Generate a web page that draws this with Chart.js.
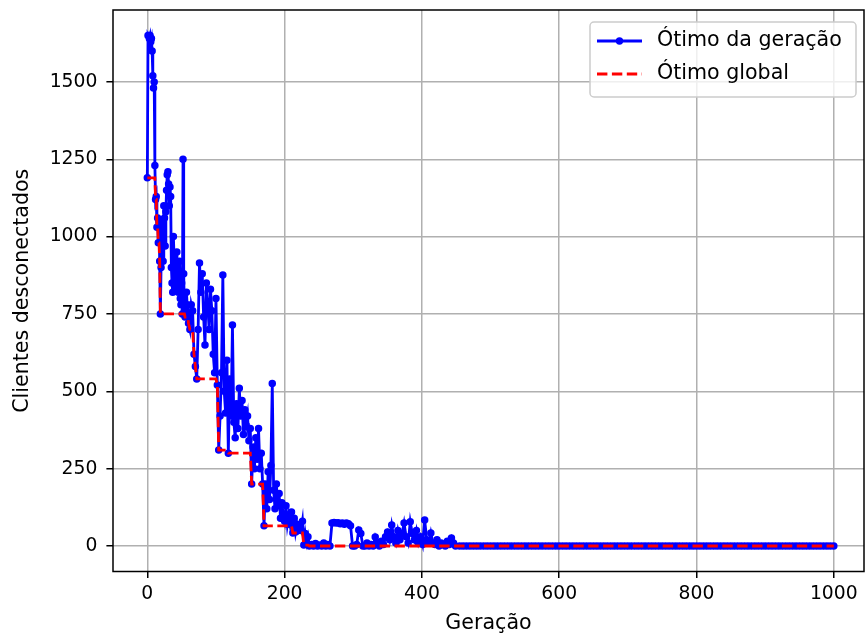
<!DOCTYPE html>
<html>
<head>
<meta charset="utf-8">
<script src="https://cdn.jsdelivr.net/npm/chart.js@4.4.1/dist/chart.umd.min.js"></script>
<style>
  html, body { margin: 0; padding: 0; background: #fff; }
</style>
</head>
<body>
<canvas id="grafico" width="865" height="639"></canvas>
<script>
// geração -> clientes desconectados (melhor indivíduo de cada geração)
const geracoesFase1 = [
  0, 1, 2, 3, 4, 5, 6, 7, 8, 9,
  10, 11, 12, 13, 14, 15, 16, 17, 18, 19,
  20, 21, 22, 23, 24, 25, 26, 27, 28, 29,
  30, 31, 32, 33, 34, 35, 36, 37, 38, 39,
  40, 41, 42, 43, 44, 45, 46, 47, 48, 49,
  50, 51, 52, 53, 54, 55, 56, 57, 58, 59,
  60
];
const valoresFase1 = [
  1190, 1650, 1650, 1640, 1650, 1630, 1640, 1600, 1520, 1480,
  1500, 1230, 1120, 1130, 1030, 1060, 980, 1050, 920, 750,
  900, 1050, 1000, 920, 1100, 1060, 970, 1080, 1150, 1200,
  1210, 1170, 1100, 1160, 1130, 900, 850, 820, 1000, 930,
  870, 830, 900, 950, 880, 820, 860, 920, 800, 780,
  850, 750, 1250, 880, 760, 740, 770, 820, 780, 750,
  720
];

const geracoesFase2 = [
  62, 64, 66, 68, 70, 72, 74, 76, 78, 80,
  82, 84, 86, 88, 90, 92, 94, 96, 98, 100,
  102, 104, 106, 108, 110, 112, 114, 116, 118, 120,
  122, 124, 126, 128, 130, 132, 134, 136, 138, 140,
  142, 144, 146, 148, 150, 152, 154, 156, 158, 160,
  162, 164, 166, 168, 170, 172, 174, 176, 178, 180,
  182, 184, 186, 188, 190, 192, 194, 196, 198, 200,
  202, 204, 206, 208, 210, 212, 214, 216, 218, 220,
  222, 224, 226, 228, 230, 232, 234, 236
];
const valoresFase2 = [
  700, 780, 760, 620, 580, 540, 700, 915, 820, 880,
  740, 650, 850, 780, 700, 830, 760, 620, 560, 800,
  520, 310, 420, 560, 876, 500, 430, 600, 300, 540,
  420, 714, 400, 350, 460, 380, 510, 420, 470, 360,
  440, 390, 420, 340, 380, 200, 320, 250, 350, 280,
  380, 250, 300, 200, 65, 200, 120, 240, 150, 260,
  525, 180, 120, 200, 130, 170, 90, 140, 100, 80,
  130, 70, 100, 70, 110, 42, 90, 45, 70, 50,
  60, 50, 80, 3, 40, 10, 30, 0
];

const geracoesFase3 = [
  239, 242, 245, 248, 251, 254, 257, 260, 263, 266,
  269, 272, 275, 278, 281, 284, 287, 290, 293, 296,
  299, 302, 305, 308, 311, 314, 317, 320, 323, 326,
  329, 332, 335, 338, 341, 344, 347, 350, 353, 356,
  359, 362, 365, 368, 371, 374, 377, 380, 383, 386,
  389, 392, 395, 398, 401, 404, 407, 410, 413, 416,
  419, 422, 425, 428, 431, 434, 437, 440, 443, 446,
  449
];
const valoresFase3 = [
  5, 0, 8, 0, 3, 0, 10, 0, 5, 0,
  74, 76, 74, 75, 72, 74, 70, 74, 72, 65,
  0, 0, 5, 52, 40, 0, 0, 10, 0, 5,
  0, 29, 10, 0, 15, 5, 30, 45, 20, 68,
  30, 10, 50, 20, 40, 74, 30, 10, 78, 40,
  20, 50, 10, 30, 5, 84, 20, 10, 42, 10,
  5, 20, 0, 10, 5, 0, 15, 5, 26, 10,
  0
];

const geracoesFase4 = [
  455, 460, 465, 470, 475, 480, 485, 490, 495, 500,
  505, 510, 515, 520, 525, 530, 535, 540, 545, 550,
  555, 560, 565, 570, 575, 580, 585, 590, 595, 600,
  605, 610, 615, 620, 625, 630, 635, 640, 645, 650,
  655, 660, 665, 670, 675, 680, 685, 690, 695, 700,
  705, 710, 715, 720, 725, 730, 735, 740, 745, 750,
  755, 760, 765, 770, 775, 780, 785, 790, 795, 800,
  805, 810, 815, 820, 825, 830, 835, 840, 845, 850,
  855, 860, 865, 870, 875, 880, 885, 890, 895, 900,
  905, 910, 915, 920, 925, 930, 935, 940, 945, 950,
  955, 960, 965, 970, 975, 980, 985, 990, 995, 1000
];
const valoresFase4 = [
  0, 0, 0, 0, 0, 0, 0, 0, 0, 0,
  0, 0, 0, 0, 0, 0, 0, 0, 0, 0,
  0, 0, 0, 0, 0, 0, 0, 0, 0, 0,
  0, 0, 0, 0, 0, 0, 0, 0, 0, 0,
  0, 0, 0, 0, 0, 0, 0, 0, 0, 0,
  0, 0, 0, 0, 0, 0, 0, 0, 0, 0,
  0, 0, 0, 0, 0, 0, 0, 0, 0, 0,
  0, 0, 0, 0, 0, 0, 0, 0, 0, 0,
  0, 0, 0, 0, 0, 0, 0, 0, 0, 0,
  0, 0, 0, 0, 0, 0, 0, 0, 0, 0,
  0, 0, 0, 0, 0, 0, 0, 0, 0, 0
];

// ótimo global: só os pontos onde a curva muda
const geracoesGlobal = [0, 11, 12, 13, 14, 15, 16, 17, 18, 19, 54, 55, 59, 60, 62, 66, 68, 70, 72,
  100, 102, 104, 116, 118, 150, 152, 168, 170, 210, 212, 226, 228, 234, 236, 1000];
const valoresGlobal = [1190, 1190, 1120, 1120, 1030, 1030, 980, 980, 920, 750, 750, 740, 740, 720, 700, 700, 620, 580, 540,
  540, 520, 310, 310, 300, 300, 200, 200, 65, 65, 42, 42, 3, 3, 0, 0];

const ticksX = [0, 200, 400, 600, 800, 1000];
const ticksY = [0, 250, 500, 750, 1000, 1250, 1500];

const rotuloGeracao = 'Ótimo da geração';
const rotuloGlobal = 'Ótimo global';

const FONTE = "'DejaVu Sans', sans-serif";
const AZUL = '#0000ff';
const VERMELHO = '#ff0000';
const TRACO = [10.4, 4.5];

const juntar = (xs, ys) => xs.map((x, i) => ({ x: x, y: ys[i] }));

const pontosGeracao = [].concat(
  juntar(geracoesFase1, valoresFase1),
  juntar(geracoesFase2, valoresFase2),
  juntar(geracoesFase3, valoresFase3),
  juntar(geracoesFase4, valoresFase4)
);
const pontosGlobal = juntar(geracoesGlobal, valoresGlobal);

// tira o espaço extra que o Chart.js reserva para os rótulos das pontas
const semSobra = s => {
  s.paddingTop = 0;
  s.paddingBottom = 0;
  s.paddingLeft = 0;
  s.paddingRight = 0;
};

// moldura preta em volta da área do gráfico
const moldura = {
  id: 'moldura',
  afterDatasetsDraw(chart) {
    const { ctx, chartArea: a } = chart;
    ctx.save();
    ctx.strokeStyle = '#000';
    ctx.lineWidth = 1.5;
    ctx.strokeRect(a.left, a.top, a.right - a.left, a.bottom - a.top);
    ctx.restore();
  }
};

// legenda no canto superior direito, no estilo do matplotlib
const legenda = {
  id: 'legenda',
  afterDraw(chart) {
    const ctx = chart.ctx;
    const x = 590, y = 22, w = 266, h = 75, r = 4;
    ctx.save();
    ctx.beginPath();
    ctx.roundRect(x, y, w, h, r);
    ctx.fillStyle = 'rgba(255,255,255,0.8)';
    ctx.fill();
    ctx.strokeStyle = '#cccccc';
    ctx.lineWidth = 1.5;
    ctx.stroke();

    const itens = [
      { texto: rotuloGeracao, cor: AZUL, traco: [], ponto: true, y: 41 },
      { texto: rotuloGlobal, cor: VERMELHO, traco: TRACO, ponto: false, y: 74 }
    ];
    itens.forEach(it => {
      ctx.beginPath();
      ctx.setLineDash(it.traco);
      ctx.strokeStyle = it.cor;
      ctx.lineWidth = 2.8;
      ctx.moveTo(597, it.y);
      ctx.lineTo(642, it.y);
      ctx.stroke();
      ctx.setLineDash([]);
      if (it.ponto) {
        ctx.beginPath();
        ctx.arc(619.5, it.y, 3.7, 0, Math.PI * 2);
        ctx.fillStyle = it.cor;
        ctx.fill();
      }
      ctx.fillStyle = '#000';
      ctx.font = '20.6px ' + FONTE;
      ctx.textBaseline = 'middle';
      ctx.textAlign = 'left';
      ctx.fillText(it.texto, 657, it.y);
    });
    ctx.restore();
  }
};

const ctx = document.getElementById('grafico').getContext('2d');
new Chart(ctx, {
  type: 'line',
  data: {
    datasets: [
      {
        label: rotuloGeracao,
        data: pontosGeracao,
        borderColor: AZUL,
        backgroundColor: AZUL,
        borderWidth: 2.8,
        pointRadius: 2.8,
        pointBorderWidth: 1.9,
        pointBackgroundColor: AZUL,
        pointBorderColor: AZUL,
        tension: 0,
        fill: false,
        order: 1
      },
      {
        label: rotuloGlobal,
        data: pontosGlobal,
        borderColor: VERMELHO,
        backgroundColor: VERMELHO,
        borderWidth: 2.8,
        borderDash: TRACO,
        pointRadius: 0,
        tension: 0,
        fill: false,
        order: 0
      }
    ]
  },
  options: {
    responsive: false,
    animation: false,
    events: [],
    layout: { autoPadding: false, padding: { top: 10, right: 1, bottom: 0, left: 0 } },
    plugins: {
      legend: { display: false },
      tooltip: { enabled: false }
    },
    scales: {
      x: {
        type: 'linear',
        min: -50,
        max: 1044,
        afterBuildTicks: s => { s.ticks = ticksX.map(v => ({ value: v })); },
        afterFit: s => { s.height = 67.5; semSobra(s); },
        border: { display: false },
        grid: { color: '#b0b0b0', lineWidth: 1.5, tickColor: '#000', tickWidth: 1.5, tickLength: 6.6 },
        ticks: {
          color: '#000',
          font: { family: FONTE, size: 18.75 },
          padding: 5,
          maxRotation: 0,
          autoSkip: false,
          callback: v => String(v)
        },
        title: {
          display: true,
          text: 'Geração',
          color: '#000',
          font: { family: FONTE, size: 20.6 },
          padding: { top: 0, bottom: 3 }
        }
      },
      y: {
        type: 'linear',
        min: -82.5,
        max: 1732.5,
        afterBuildTicks: s => { s.ticks = ticksY.map(v => ({ value: v })); },
        afterFit: s => { s.width = 113; semSobra(s); },
        border: { display: false },
        grid: { color: '#b0b0b0', lineWidth: 1.5, tickColor: '#000', tickWidth: 1.5, tickLength: 6.6 },
        ticks: {
          color: '#000',
          font: { family: FONTE, size: 18.75 },
          padding: 9,
          autoSkip: false,
          callback: v => String(v)
        },
        title: {
          display: true,
          text: 'Clientes desconectados',
          color: '#000',
          font: { family: FONTE, size: 20.6 },
          padding: { top: 10, bottom: 0 }
        }
      }
    }
  },
  plugins: [moldura, legenda]
});
</script>
</body>
</html>
